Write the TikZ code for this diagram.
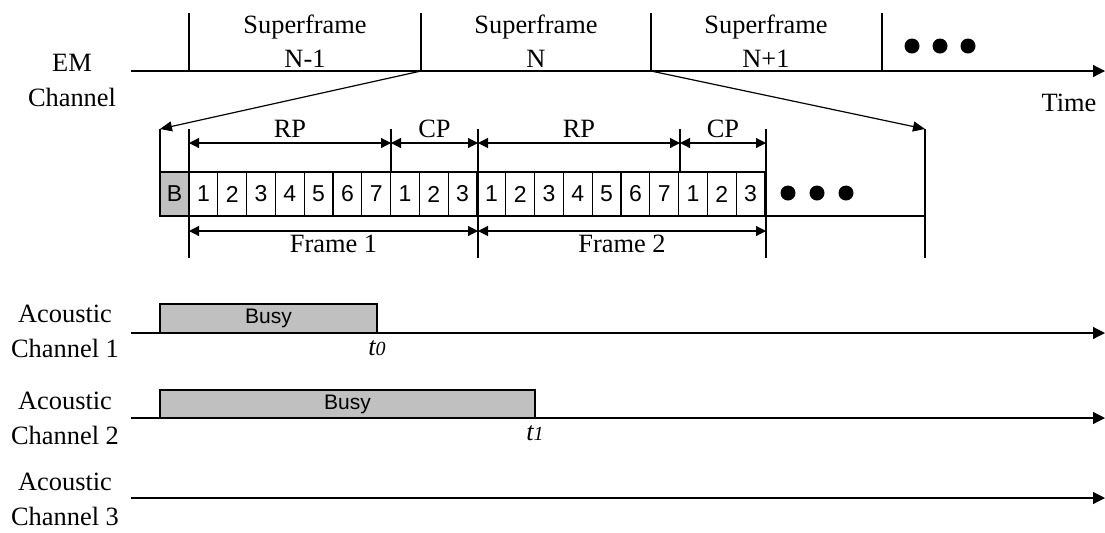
\documentclass[tikz,border=0pt]{standalone}
\usepackage{fontspec}
\setmainfont{Liberation Serif}
\newfontfamily\arialfont{Liberation Sans}
\usetikzlibrary{arrows.meta}
\definecolor{busygray}{RGB}{192,192,192}
\begin{document}
\begin{tikzpicture}[x=0.5pt,y=-0.5pt,line width=0.6pt,
  lbl/.style={font=\fontsize{13.2}{17.5}\selectfont,align=center,inner sep=0pt},
  sflbl/.style={font=\fontsize{13.2}{17}\selectfont,align=center,inner sep=0pt,anchor=south},
  slot/.style={draw,minimum width=14.4pt,minimum height=22pt,inner sep=0pt,outer sep=0pt,
    font=\arialfont\fontsize{11.5}{13}\selectfont},
  busy/.style={draw,fill=busygray,inner sep=0pt,outer sep=0pt,anchor=south west,
    font=\arialfont\fontsize{10.5}{12}\selectfont},
  dimarrow/.style={{Triangle[length=5pt,width=5pt]}-{Triangle[length=5pt,width=5pt]}},
  axis/.style={-{Triangle[length=6pt,width=6pt]}},
  zoomarrow/.style={-{Triangle[length=6pt,width=5pt]}},
  dot/.style={circle,fill=black,inner sep=0pt,minimum size=7.5pt}]
\useasboundingbox (0,0) rectangle (1105,532);

% ---------- EM channel with superframes ----------
\coordinate (em0) at (131,71);
\coordinate (em1) at (1105,71);
\draw[axis] (em0) -- (em1);
\node[lbl] (emlabel) at (72,80) {EM\\Channel};
\node[lbl,anchor=base] (time) at (1069,111) {Time};

\foreach \x [count=\k] in {189,421,651,882}{
  \coordinate (sfT\k) at (\x,13);
  \coordinate (sfB\k) at (\x,71);
  \draw (sfT\k) -- (sfB\k);
}
\node[sflbl] (sf1) at (305,68) {Superframe\\N-1};
\node[sflbl] (sf2) at (536,68) {Superframe\\N};
\node[sflbl] (sf3) at (766,68) {Superframe\\N+1};
\node[dot] (d1) at (912,46) {};
\node[dot] (d2) at (940,46) {};
\node[dot] (d3) at (968,46) {};

% ---------- expanded superframe ----------
\node[slot,fill=busygray,minimum width=14.5pt] (bcell) at (174.5,194) {B};
\foreach \n [count=\i] in {1,2,3,4,5,6,7,1,2,3,1,2,3,4,5,6,7,1,2,3}
  \node[slot] (s\i) at ({189+(\i-0.5)*28.8},194) {\n};
\coordinate (endB) at (925,216);
\draw (s20.south east) -- (endB);
\node[dot] (e1) at (788,193) {};
\node[dot] (e2) at (817,193) {};
\node[dot] (e3) at (846,193) {};

% boundary marks
\coordinate (vL) at (160,129);
\draw (vL) -- (bcell.south west);
\coordinate (vR) at (925,129);
\coordinate (vRB) at (925,258);
\draw (vR) -- (vRB);
\foreach \x/\nm in {189/a,478/b,766/c}{
  \coordinate (v\nm T) at (\x,129);
  \coordinate (v\nm B) at (\x,258);
  \draw (v\nm T) -- (v\nm B);
}
\foreach \x/\nm in {391/d,680/e}{
  \coordinate (v\nm T) at (\x,129);
  \coordinate (v\nm B) at (\x,172);
  \draw (v\nm T) -- (v\nm B);
}

% zoom arrows from superframe N
\draw[zoomarrow] (sfB2) -- (vL);
\draw[zoomarrow] (sfB3) -- (vR);

% period dimensions
\coordinate (rp1a) at (189,143); \coordinate (rp1b) at (391,143);
\coordinate (cp1b) at (478,143);
\coordinate (rp2b) at (680,143); \coordinate (cp2b) at (766,143);
\draw[dimarrow] (rp1a) -- (rp1b);
\draw[dimarrow] (rp1b) -- (cp1b);
\draw[dimarrow] (cp1b) -- (rp2b);
\draw[dimarrow] (rp2b) -- (cp2b);
\node[lbl,anchor=base] (rp1) at (290,137) {RP};
\node[lbl,anchor=base] (cp1) at (434.5,137) {CP};
\node[lbl,anchor=base] (rp2) at (579,137) {RP};
\node[lbl,anchor=base] (cp2) at (723,137) {CP};

\coordinate (f1a) at (189,231); \coordinate (f1b) at (478,231); \coordinate (f2b) at (766,231);
\draw[dimarrow] (f1a) -- (f1b);
\draw[dimarrow] (f1b) -- (f2b);
\node[lbl,anchor=base] (fr1) at (333.5,252) {Frame 1};
\node[lbl,anchor=base] (fr2) at (622,252) {Frame 2};

% ---------- acoustic channels ----------
\foreach \y/\k/\ly in {333/1/331.5,418/2/418,498/3/499.5}{
  \coordinate (ac\k a) at (131,\y);
  \coordinate (ac\k b) at (1105,\y);
  \draw[axis] (ac\k a) -- (ac\k b);
  \node[lbl] (aclabel\k) at (65,\ly) {Acoustic\\Channel \k};
}
\node[busy,minimum width=108.5pt,minimum height=14.5pt] (busy1) at (160,333) {Busy};
\node[busy,minimum width=187.5pt,minimum height=14pt] (busy2) at (160,418) {Busy};
\node[lbl,anchor=base,font=\fontsize{13.2}{16}\selectfont\itshape] (t0) at (377,355)
  {t\fontsize{10}{10}\selectfont 0};
\node[lbl,anchor=base,font=\fontsize{13.2}{16}\selectfont\itshape] (t1) at (535,440)
  {t\fontsize{10}{10}\selectfont 1};
\end{tikzpicture}
\end{document}
